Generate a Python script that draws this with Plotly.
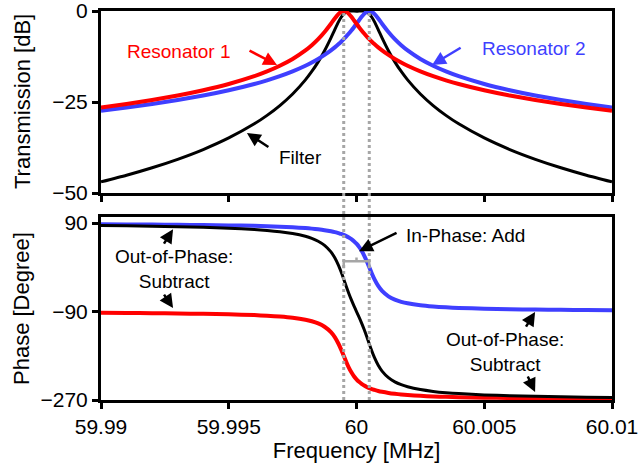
import plotly.graph_objects as go

# Frequency offsets from 60 MHz (in units of 1e-3 MHz)
offset_milli = [-10, -9, -8, -7, -6, -5, -4, -3.5, -3, -2.5, -2, -1.75, -1.5, -1.25, -1,
                -0.85, -0.7, -0.6, -0.5, -0.4, -0.3, -0.2, -0.1, 0, 0.1, 0.2, 0.3, 0.4,
                0.5, 0.6, 0.7, 0.85, 1, 1.25, 1.5, 1.75, 2, 2.5, 3, 3.5, 4, 5, 6, 7, 8, 9, 10]
freq = [60 + o / 1000 for o in offset_milli]

res1_db = [-26.50, -25.54, -24.45, -23.22, -21.77, -20.04, -17.89, -16.58, -15.03, -13.17,
           -10.83, -9.40, -7.74, -5.77, -3.49, -2.05, -0.78, -0.21, 0.0, -0.21, -0.78, -1.60,
           -2.53, -3.49, -4.44, -5.34, -6.19, -6.99, -7.74, -8.44, -9.09, -10.00, -10.83,
           -12.07, -13.17, -14.15, -15.03, -16.58, -17.89, -19.03, -20.04, -21.77, -23.22,
           -24.45, -25.54, -26.50, -27.37]
res2_db = [-27.37, -26.50, -25.54, -24.45, -23.22, -21.77, -20.04, -19.03, -17.89, -16.58,
           -15.03, -14.15, -13.17, -12.07, -10.83, -10.00, -9.09, -8.44, -7.74, -6.99, -6.19,
           -5.34, -4.44, -3.49, -2.53, -1.60, -0.78, -0.21, 0.0, -0.21, -0.78, -2.05, -3.49,
           -5.77, -7.74, -9.40, -10.83, -13.17, -15.03, -16.58, -17.89, -20.04, -21.77,
           -23.22, -24.45, -25.54, -26.50]
filter_db = [-46.93, -45.10, -43.05, -40.73, -38.05, -34.87, -30.99, -28.67, -25.98, -22.81,
             -18.92, -16.61, -13.97, -10.90, -7.38, -5.11, -2.93, -1.71, -0.80, -0.26, -0.03,
             0.00, -0.03, -0.04, -0.03, 0.00, -0.03, -0.26, -0.80, -1.71, -2.93, -5.11, -7.38,
             -10.90, -13.97, -16.61, -18.92, -22.81, -25.98, -28.67, -30.99, -34.87, -38.05,
             -40.73, -43.05, -45.10, -46.93]

res1_phase = [-92.7, -93.0, -93.4, -94.0, -94.7, -95.7, -97.3, -98.5, -100.2, -102.7, -106.7,
              -109.8, -114.2, -121.0, -132.0, -142.1, -156.0, -167.5, -180.0, -192.5, -204.0,
              -213.7, -221.6, -228.0, -233.1, -237.3, -240.6, -243.4, -245.8, -247.8, -249.4,
              -251.6, -253.3, -255.6, -257.3, -258.7, -259.8, -261.5, -262.7, -263.6, -264.3,
              -265.3, -266.0, -266.6, -267.0, -267.3, -267.6]
res2_phase = [87.6, 87.3, 87.0, 86.6, 86.0, 85.3, 84.3, 83.6, 82.7, 81.5, 79.8, 78.7, 77.3,
              75.6, 73.3, 71.6, 69.4, 67.8, 65.8, 63.4, 60.6, 57.3, 53.1, 48.0, 41.6, 33.7,
              24.0, 12.5, 0.0, -12.5, -24.0, -37.9, -48.0, -59.0, -65.8, -70.2, -73.3, -77.3,
              -79.8, -81.5, -82.7, -84.3, -85.3, -86.0, -86.6, -87.0, -87.3]
filter_phase = [84.8, 84.3, 83.5, 82.6, 81.4, 79.6, 77.0, 75.1, 72.5, 68.8, 63.1, 58.9, 53.1,
                44.6, 31.3, 19.4, 3.4, -9.7, -24.2, -39.1, -53.3, -66.4, -78.5, -90.0, -101.5,
                -113.6, -126.7, -140.9, -155.8, -170.3, -183.4, -199.4, -211.3, -224.6, -233.1,
                -238.9, -243.1, -248.8, -252.5, -255.1, -257.0, -259.6, -261.4, -262.6, -263.5,
                -264.3, -264.8]

resonance_freqs = [59.9995, 60.0005]
x_ticks = [59.99, 59.995, 60, 60.005, 60.01]
x_ticklabels = ["59.99", "59.995", "60", "60.005", "60.01"]
db_ticks = [0, -25, -50]
phase_ticks = [90, -90, -270]

RED = "#FF0000"
BLUE = "#3F3FFF"
BLACK = "#000000"
GRAY = "#A6A6A6"
FONT = "Liberation Sans, Arial, sans-serif"

fig = go.Figure()

spl = dict(shape="spline", smoothing=0.6)
fig.add_trace(go.Scatter(x=freq, y=filter_db, mode="lines", line=dict(color=BLACK, width=3, **spl),
                         xaxis="x", yaxis="y", showlegend=False))
fig.add_trace(go.Scatter(x=freq, y=res2_db, mode="lines", line=dict(color=BLUE, width=4, **spl),
                         xaxis="x", yaxis="y", showlegend=False))
fig.add_trace(go.Scatter(x=freq, y=res1_db, mode="lines", line=dict(color=RED, width=4, **spl),
                         xaxis="x", yaxis="y", showlegend=False))

fig.add_trace(go.Scatter(x=freq, y=res2_phase, mode="lines", line=dict(color=BLUE, width=4, **spl),
                         xaxis="x2", yaxis="y2", showlegend=False))
fig.add_trace(go.Scatter(x=freq, y=res1_phase, mode="lines", line=dict(color=RED, width=4, **spl),
                         xaxis="x2", yaxis="y2", showlegend=False))
fig.add_trace(go.Scatter(x=freq, y=filter_phase, mode="lines", line=dict(color=BLACK, width=3, **spl),
                         xaxis="x2", yaxis="y2", showlegend=False))

axis_common = dict(showline=True, linecolor=BLACK, linewidth=3, mirror=True,
                   ticks="outside", ticklen=6, tickwidth=3, tickcolor=BLACK,
                   showgrid=False, zeroline=False, automargin=False,
                   ticklabeloverflow="allow",
                   tickfont=dict(family=FONT, size=21, color=BLACK))
title_font = dict(family=FONT, size=22, color=BLACK)

fig.update_layout(
    width=639, height=466,
    margin=dict(l=101, r=27, t=11, b=66),
    paper_bgcolor="white", plot_bgcolor="white",
    font=dict(family=FONT, size=18, color=BLACK),
    xaxis=dict(domain=[0, 1], range=[59.99, 60.01], anchor="y", tickvals=x_ticks,
               showticklabels=False, **axis_common),
    yaxis=dict(domain=[0.532, 1], range=[-50, 0], anchor="x", tickvals=db_ticks,
               **axis_common),
    xaxis2=dict(domain=[0, 1], range=[59.99, 60.01], anchor="y2", matches="x", tickvals=x_ticks,
                ticktext=x_ticklabels,
                title=dict(text="Frequency [MHz]", font=title_font, standoff=4),
                **axis_common),
    yaxis2=dict(domain=[0, 0.470], range=[-270, 102], anchor="x2", tickvals=phase_ticks,
                **axis_common),
)

# Dotted resonance markers spanning both panels
for f0 in resonance_freqs:
    fig.add_shape(type="line", xref="x", yref="paper", x0=f0, x1=f0, y0=0, y1=1,
                  line=dict(color=GRAY, width=3, dash="dot"), layer="above")

# In-phase bracket
fig.add_shape(type="path", xref="x2", yref="y2",
              path="M 59.9995,-2 L 59.9995,12.5 L 60.0005,12.5 L 60.0005,-2 M 60.0,12.5 L 60.0,20",
              line=dict(color=GRAY, width=2.5), layer="above")


def px_to_paper(px, py):
    return (px - 101) / 511.0, (400 - py) / 389.0


def label(px, py, text, color=BLACK, size=19, angle=0):
    xp, yp = px_to_paper(px, py)
    fig.add_annotation(xref="paper", yref="paper", x=xp, y=yp, text=text, showarrow=False,
                       font=dict(family=FONT, size=size, color=color), align="center",
                       xanchor="center", yanchor="middle", textangle=angle)


def arrow(xr, yr, x, y, ax, ay, color=BLACK):
    fig.add_annotation(xref=xr, yref=yr, x=x, y=y, ax=ax, ay=ay, text="", showarrow=True,
                       arrowhead=2, arrowsize=1.1, arrowwidth=2.5, arrowcolor=color)


# Y axis titles
label(23, 102, "Transmission [dB]", size=22, angle=-90)
label(21, 309, "Phase [Degree]", size=22, angle=-90)

for (px, py, t, c) in [(179, 51, "Resonator 1", RED), (534, 48, "Resonator 2", BLUE),
                       (300, 158, "Filter", BLACK),
                       (174, 269, "Out-of-Phase:<br>Subtract", BLACK),
                       (465, 235, "In-Phase: Add", BLACK),
                       (505, 352, "Out-of-Phase:<br>Subtract", BLACK)]:
    label(px, py, t, c)

arrow("x", "y", 59.99689, -14.8, -29, -15, RED)
arrow("x", "y", 60.00296, -14.8, 30, -18, BLUE)
arrow("x", "y", 59.99571, -33.5, 23, 15, BLACK)
arrow("x2", "y2", 59.99282, 77.6, -10, 16)
arrow("x2", "y2", 59.99282, -83.0, -10, -15)
arrow("x2", "y2", 60.0001, 32.9, 39, -19)
arrow("x2", "y2", 60.00699, -91.1, -10, 16)
arrow("x2", "y2", 60.00699, -253.8, -8, -17)

fig.write_html("out.html")
